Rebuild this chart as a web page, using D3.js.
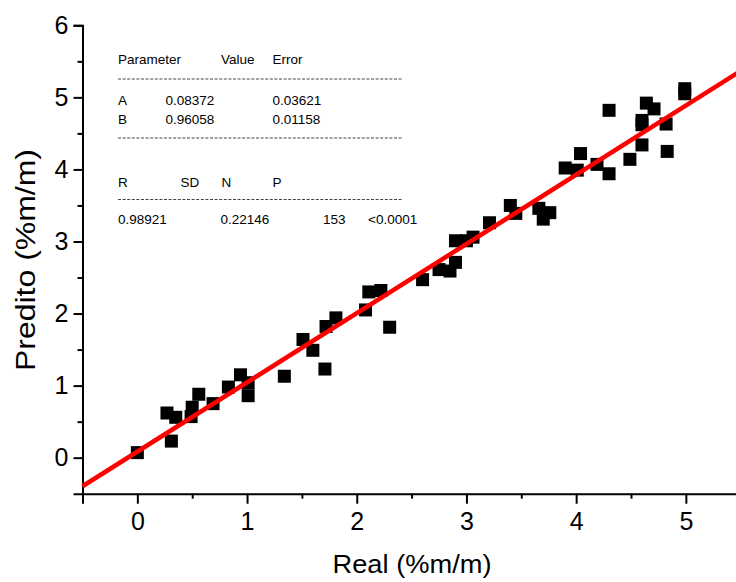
<!DOCTYPE html>
<html>
<head>
<meta charset="utf-8">
<script src="https://cdn.jsdelivr.net/npm/d3@7"></script>
<style>
  html, body { margin: 0; padding: 0; background: #fff; }
  svg { display: block; font-family: "Liberation Sans", Arial, Helvetica, sans-serif; }
</style>
</head>
<body>
<svg id="chart" width="736" height="582"></svg>
<script>
// Measured (real) vs. predicted content, %m/m
const realValues = [0.00, 0.27, 0.31, 0.35, 0.49, 0.50, 0.56, 0.69, 0.83, 0.94,
  1.01, 1.01, 1.34, 1.51, 1.60, 1.71, 1.72, 1.81, 2.08, 2.11,
  2.22, 2.30, 2.60, 2.75, 2.85, 2.90, 2.90, 3.00, 3.06, 3.21,
  3.40, 3.45, 3.66, 3.70, 3.76, 3.90, 4.01, 4.04, 4.19, 4.30,
  4.30, 4.49, 4.60, 4.60, 4.60, 4.64, 4.71, 4.82, 4.83, 4.99, 4.99];
const predValues = [0.07, 0.62, 0.23, 0.56, 0.57, 0.70, 0.88, 0.75, 0.98, 1.15,
  1.04, 0.86, 1.13, 1.64, 1.49, 1.23, 1.82, 1.94, 2.05, 2.30,
  2.32, 1.81, 2.47, 2.61, 2.59, 2.71, 3.01, 3.01, 3.06, 3.26,
  3.50, 3.39, 3.46, 3.31, 3.40, 4.02, 3.99, 4.22, 4.07, 3.94,
  4.82, 4.14, 4.34, 4.62, 4.68, 4.92, 4.84, 4.63, 4.25, 5.12, 5.05];

// Linear fit parameters and statistics
const fitIntercept = 0.08372;
const fitSlope = 0.96058;
const paramHeader = ["Parameter", "Value", "Error"];
const paramRows = [["A", "0.08372", "0.03621"], ["B", "0.96058", "0.01158"]];
const statHeader = ["R", "SD", "N", "P"];
const statRow = ["0.98921", "0.22146", "153", "<0.0001"];

const xMajorTicks = [0, 1, 2, 3, 4, 5];
const xMinorTicks = [-0.5, 0.5, 1.5, 2.5, 3.5, 4.5, 5.5];
const yMajorTicks = [0, 1, 2, 3, 4, 5, 6];
const yMinorTicks = [0.5, 1.5, 2.5, 3.5, 4.5, 5.5];

const svg = d3.select("#chart");
const x = d3.scaleLinear().domain([-0.5, 5.5]).range([82.5, 740.7]);
const y = d3.scaleLinear().domain([-0.5, 6]).range([493.7, 25.3]);

// Axes
const xAxisG = svg.append("g").attr("transform", `translate(0,${y(-0.5)})`);
xAxisG.call(d3.axisBottom(x).tickValues(xMinorTicks).tickSize(5).tickFormat(""));
xAxisG.call(g => g.append("g").call(d3.axisBottom(x).tickValues(xMajorTicks).tickSize(10).tickPadding(9)
  .tickFormat(d3.format("d"))));
const yAxisG = svg.append("g").attr("transform", `translate(${x(-0.5)},0)`);
yAxisG.call(d3.axisLeft(y).tickValues(yMinorTicks).tickSize(5).tickFormat(""));
yAxisG.call(g => g.append("g").call(d3.axisLeft(y).tickValues(yMajorTicks).tickSize(9).tickPadding(5)
  .tickFormat(d3.format("d"))));

svg.selectAll(".domain").attr("stroke", "#000").attr("stroke-width", 2);
svg.selectAll(".tick line").attr("stroke", "#000").attr("stroke-width", 2);
svg.selectAll(".tick text").attr("fill", "#000").attr("font-size", 25)
  .attr("font-family", "'Liberation Sans', Arial, sans-serif");
// hide duplicate domain lines of the nested major-tick axes
xAxisG.select("g .domain").attr("stroke", "none");
yAxisG.select("g .domain").attr("stroke", "none");
xAxisG.select(".domain").attr("d", `M${x(-0.5)},0H736`);
yAxisG.select(".domain").attr("d", `M0,${y(6)}V${y(-0.5) + 1}`);

// Axis titles
svg.append("text")
  .attr("x", 412).attr("y", 573)
  .attr("text-anchor", "middle")
  .attr("font-size", 25)
  .attr("textLength", 159).attr("lengthAdjust", "spacingAndGlyphs")
  .text("Real (%m/m)");
svg.append("text")
  .attr("transform", "translate(35,260) rotate(-90)")
  .attr("text-anchor", "middle")
  .attr("font-size", 27)
  .attr("textLength", 222).attr("lengthAdjust", "spacingAndGlyphs")
  .text("Predito (%m/m)");

// Data points
const pts = realValues.map((r, i) => ({ r, p: predValues[i] }));
const sq = 13;
svg.append("g").selectAll("rect").data(pts).join("rect")
  .attr("x", d => x(d.r) - sq / 2)
  .attr("y", d => y(d.p) - sq / 2)
  .attr("width", sq).attr("height", sq)
  .attr("fill", "#000");

// Fitted line
const fitLine = d3.line().x(d => x(d)).y(d => y(fitIntercept + fitSlope * d));
svg.append("path")
  .datum([-0.5, 5.5])
  .attr("d", fitLine)
  .attr("fill", "none")
  .attr("stroke", "#ff0000")
  .attr("stroke-width", 4.5);

// Fit statistics table
const table = svg.append("g").attr("font-size", 13.5).attr("fill", "#000");
const colX = [118, 221, 272.5];
const statX = [118, 180.5, 221.5, 272.5];
const rule = y0 => table.append("line")
  .attr("x1", 118).attr("x2", 403).attr("y1", y0).attr("y2", y0)
  .attr("stroke", "#444").attr("stroke-width", 1).attr("stroke-dasharray", "3,1.6");
paramHeader.forEach((t, i) => table.append("text").attr("x", colX[i]).attr("y", 63.5).text(t));
rule(79);
paramRows.forEach((row, j) => {
  const rowX = [118, 165.5, 272.5];
  row.forEach((t, i) => table.append("text").attr("x", rowX[i]).attr("y", 104.5 + j * 19.5).text(t));
});
rule(138);
statHeader.forEach((t, i) => table.append("text").attr("x", statX[i]).attr("y", 186.5).text(t));
rule(199.5);
const lastX = [118, 220.5, 323, 368];
statRow.forEach((t, i) => table.append("text").attr("x", lastX[i]).attr("y", 224).text(t));
</script>
</body>
</html>
